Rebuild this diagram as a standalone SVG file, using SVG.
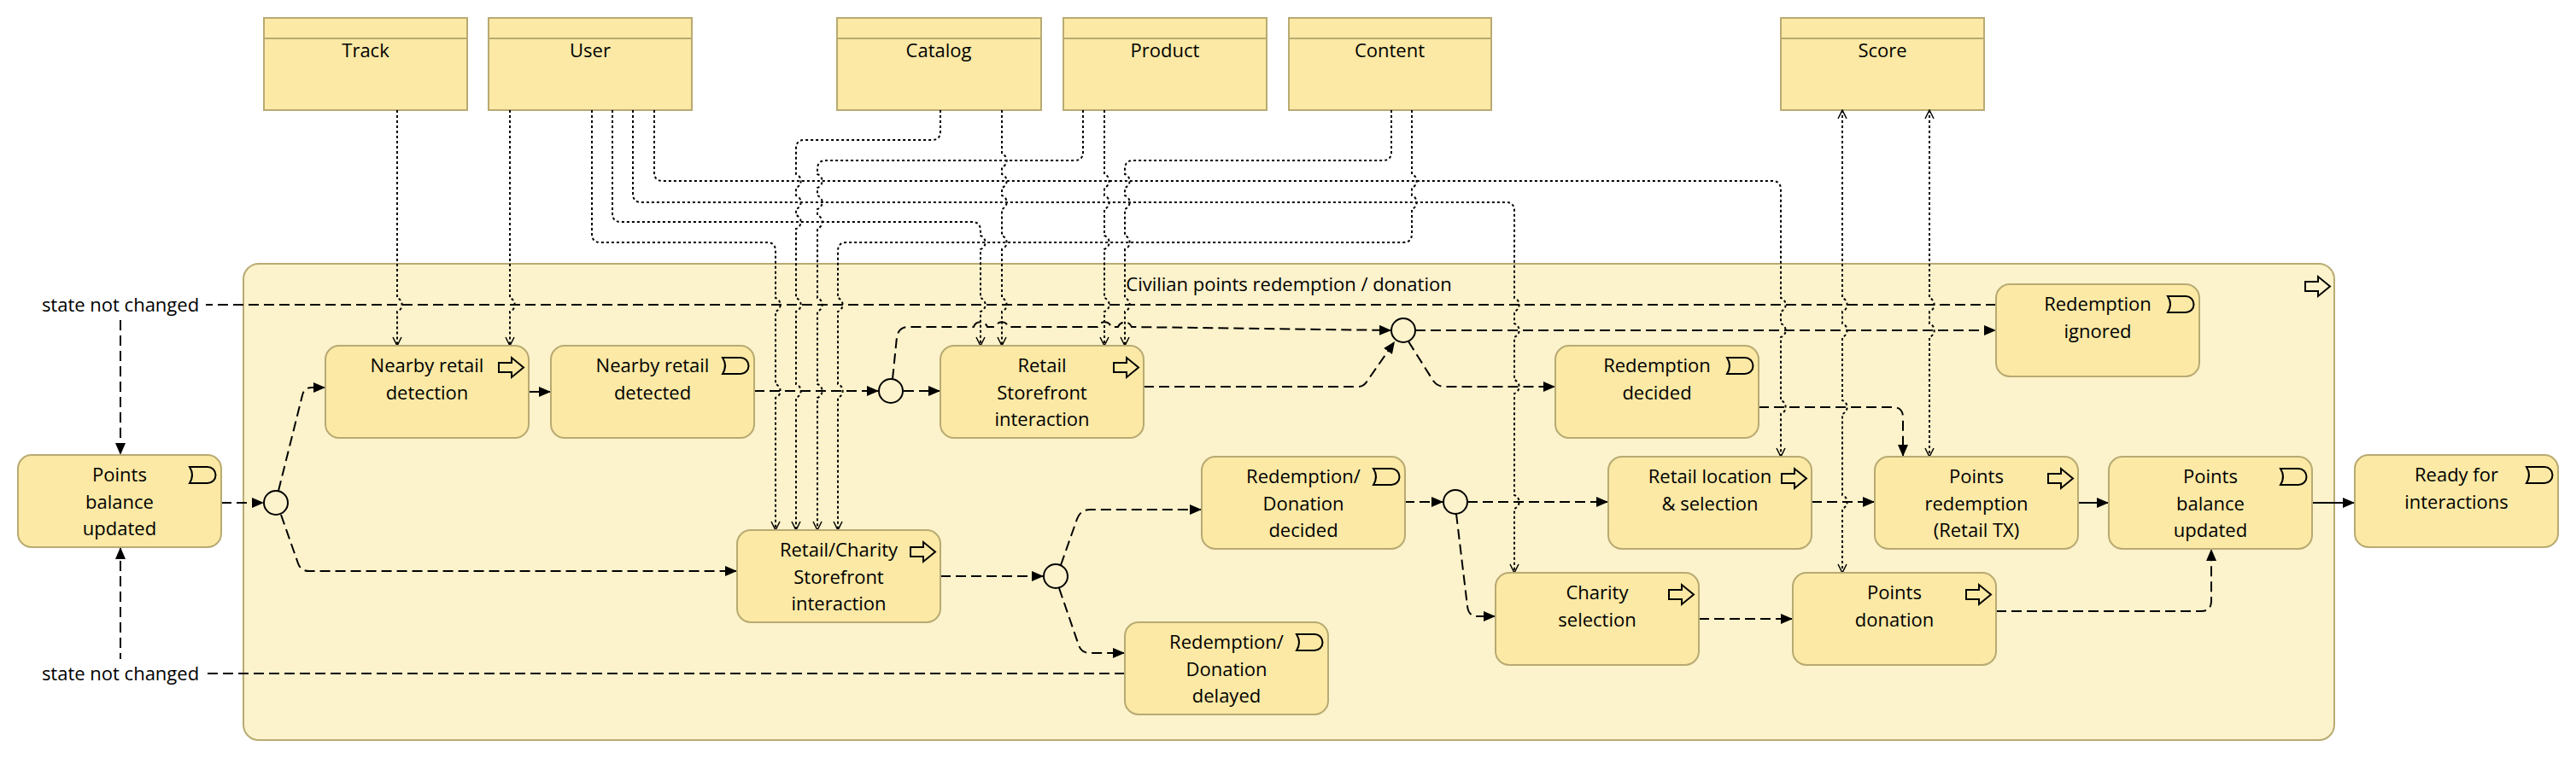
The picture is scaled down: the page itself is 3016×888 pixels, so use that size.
<svg xmlns="http://www.w3.org/2000/svg" xmlns:xlink="http://www.w3.org/1999/xlink" width="3016" height="888" viewBox="0 0 3016 888">
<style>
.t{font-family:'Open Sans','Liberation Sans',sans-serif;font-size:22px;fill:#000;text-anchor:middle}
.box{fill:#FBE9A5;stroke:#B8AA72;stroke-width:2}
.acc{fill:none;stroke:#000;stroke-width:2;stroke-dasharray:3 3}
.flow{fill:none;stroke:#000;stroke-width:2;stroke-dasharray:12 6}
.trig{fill:none;stroke:#000;stroke-width:2}
.ico{fill:none;stroke:#000;stroke-width:2}
.lbl{fill:#fff}
</style>
<defs>
<marker id="af" markerWidth="14" markerHeight="12" refX="14" refY="6" orient="auto" markerUnits="userSpaceOnUse"><path d="M0,0 L14,6 L0,12 z" fill="#000"/></marker>
<marker id="ao" markerWidth="12" markerHeight="12" refX="11" refY="6" orient="auto-start-reverse" markerUnits="userSpaceOnUse"><path d="M1,1 L11,6 L1,11" fill="none" stroke="#000" stroke-width="1.5" stroke-dasharray="none"/></marker>
<path id="ev" d="M0,0 h21 a9.5,9.5 0 0 1 0,19 h-21 q6,-9.5 0,-19 z" fill="none" stroke="#000" stroke-width="2"/>
<path id="pr" d="M0,6 h15 v-6 l14,11.5 l-14,11.5 v-6 h-15 z" fill="none" stroke="#000" stroke-width="2"/>
</defs>
<rect width="3016" height="888" fill="#fff"/>

<g id="container">
<rect x="285" y="309" width="2448" height="558" rx="18" fill="#FCF2CB" stroke="#B8AA72" stroke-width="2"/>
<text class="t" x="1509" y="341">Civilian points redemption / donation</text>
<use xlink:href="#pr" href="#pr" x="2699" y="324"/>
</g>

<g id="data-objects">
<g id="d-track"><rect class="box" x="309" y="21" width="238" height="108"/><line x1="309" y1="45" x2="547" y2="45" stroke="#B8AA72" stroke-width="2"/><text class="t" x="428" y="67">Track</text></g>
<g id="d-user"><rect class="box" x="572" y="21" width="238" height="108"/><line x1="572" y1="45" x2="810" y2="45" stroke="#B8AA72" stroke-width="2"/><text class="t" x="691" y="67">User</text></g>
<g id="d-catalog"><rect class="box" x="980" y="21" width="239" height="108"/><line x1="980" y1="45" x2="1219" y2="45" stroke="#B8AA72" stroke-width="2"/><text class="t" x="1099" y="67">Catalog</text></g>
<g id="d-product"><rect class="box" x="1245" y="21" width="238" height="108"/><line x1="1245" y1="45" x2="1483" y2="45" stroke="#B8AA72" stroke-width="2"/><text class="t" x="1364" y="67">Product</text></g>
<g id="d-content"><rect class="box" x="1509" y="21" width="237" height="108"/><line x1="1509" y1="45" x2="1746" y2="45" stroke="#B8AA72" stroke-width="2"/><text class="t" x="1627" y="67">Content</text></g>
<g id="d-score"><rect class="box" x="2085" y="21" width="238" height="108"/><line x1="2085" y1="45" x2="2323" y2="45" stroke="#B8AA72" stroke-width="2"/><text class="t" x="2204" y="67">Score</text></g>
</g>

<g id="connectors">
<!-- access relations -->
<path class="acc" marker-end="url(#ao)" d="M465,129 V349 A8.5 8.5 0 0 1 465 365 V405"/>
<path class="acc" marker-end="url(#ao)" d="M597,129 V349 A8.5 8.5 0 0 1 597 365 V405"/>
<path class="acc" marker-end="url(#ao)" d="M693,129 V274 Q693,284 703,284 H898 Q908,284 908,294 V349 A8.5 8.5 0 0 1 908 365 V450 A8.5 8.5 0 0 1 908 466 V621"/>
<path class="acc" marker-end="url(#ao)" d="M717,129 V250 Q717,260 727,260 H1138 Q1148,260 1148,270 V276 A8.5 8.5 0 0 1 1148 292 V349 A8.5 8.5 0 0 1 1148 365 V405"/>
<path class="acc" marker-end="url(#ao)" d="M741,129 V227 Q741,237 751,237 H1763 Q1773,237 1773,247 V349 A8.5 8.5 0 0 1 1773 365 V379 A8.5 8.5 0 0 1 1773 395 V445 A8.5 8.5 0 0 1 1773 461 V580 A8.5 8.5 0 0 1 1773 596 V671"/>
<path class="acc" marker-end="url(#ao)" d="M766,129 V202 Q766,212 776,212 H2075 Q2085,212 2085,222 V349 A8.5 8.5 0 0 1 2085 365 V379 A8.5 8.5 0 0 1 2085 395 V469 A8.5 8.5 0 0 1 2085 485 V535"/>
<path class="acc" marker-end="url(#ao)" d="M1101,129 V154 Q1101,164 1091,164 H942 Q932,164 932,174 V204 A8.5 8.5 0 0 1 932 220 V229 A8.5 8.5 0 0 1 932 245 V252 A8.5 8.5 0 0 1 932 268 V349 A8.5 8.5 0 0 1 932 365 V450 A8.5 8.5 0 0 1 932 466 V621"/>
<path class="acc" marker-end="url(#ao)" d="M1173,129 V180 A8.5 8.5 0 0 1 1173 196 V204 A8.5 8.5 0 0 1 1173 220 V229 A8.5 8.5 0 0 1 1173 245 V276 A8.5 8.5 0 0 1 1173 292 V349 A8.5 8.5 0 0 1 1173 365 V405"/>
<path class="acc" marker-end="url(#ao)" d="M1268,129 V178 Q1268,188 1258,188 H967 Q957,188 957,198 V204 A8.5 8.5 0 0 1 957 220 V229 A8.5 8.5 0 0 1 957 245 V252 A8.5 8.5 0 0 1 957 268 V349 A8.5 8.5 0 0 1 957 365 V450 A8.5 8.5 0 0 1 957 466 V621"/>
<path class="acc" marker-end="url(#ao)" d="M1293,129 V204 A8.5 8.5 0 0 1 1293 220 V229 A8.5 8.5 0 0 1 1293 245 V276 A8.5 8.5 0 0 1 1293 292 V349 A8.5 8.5 0 0 1 1293 365 V405"/>
<path class="acc" marker-end="url(#ao)" d="M1629,129 V178 Q1629,188 1619,188 H1327 Q1317,188 1317,198 V204 A8.5 8.5 0 0 1 1317 220 V229 A8.5 8.5 0 0 1 1317 245 V276 A8.5 8.5 0 0 1 1317 292 V349 A8.5 8.5 0 0 1 1317 365 V405"/>
<path class="acc" marker-end="url(#ao)" d="M1653,129 V204 A8.5 8.5 0 0 1 1653 220 V229 A8.5 8.5 0 0 1 1653 245 V274 Q1653,284 1643,284 H991 Q981,284 981,294 V349 A8.5 8.5 0 0 1 981 365 V450 A8.5 8.5 0 0 1 981 466 V621"/>
<path class="acc" marker-start="url(#ao)" marker-end="url(#ao)" d="M2259,129 V349 A8.5 8.5 0 0 1 2259 365 V379 A8.5 8.5 0 0 1 2259 395 V535"/>
<path class="acc" marker-start="url(#ao)" marker-end="url(#ao)" d="M2157,129 V349 A8.5 8.5 0 0 1 2157 365 V379 A8.5 8.5 0 0 1 2157 395 V469 A8.5 8.5 0 0 1 2157 485 V580 A8.5 8.5 0 0 1 2157 596 V671"/>
<!-- flows -->
<path class="flow" marker-end="url(#af)" d="M2337,357 H141 V533"/>
<path class="flow" marker-end="url(#af)" d="M1317,789 H141 V641"/>
<path class="flow" marker-end="url(#af)" d="M259,589 H309"/>
<path class="flow" marker-end="url(#af)" d="M326,575 L354,463 Q356,454 365,454 H381"/>
<path class="flow" marker-end="url(#af)" d="M329,603 L349,660 Q352,669 362,669 H863"/>
<path class="flow" marker-end="url(#af)" d="M883,458 H1029"/>
<path class="flow" marker-end="url(#af)" d="M1058,458 H1101"/>
<path class="flow" marker-end="url(#af)" d="M1045,444 L1050,395 Q1052,383 1064,383 H1140 A8.5 8.5 0 0 1 1156 383 H1165 A8.5 8.5 0 0 1 1181 383 H1285 A8.5 8.5 0 0 1 1301 383 H1309 A8.5 8.5 0 0 1 1325 383 L1629,387"/>
<path class="flow" marker-end="url(#af)" d="M1339,453 H1590 Q1597,453 1601,446 L1633,400"/>
<path class="flow" marker-end="url(#af)" d="M1657,387 H2337"/>
<path class="flow" marker-end="url(#af)" d="M1649,400 L1678,446 Q1683,453 1692,453 H1821"/>
<path class="flow" marker-end="url(#af)" d="M1101,675 H1222"/>
<path class="flow" marker-end="url(#af)" d="M1242,662 L1261,608 Q1265,597 1276,597 H1407"/>
<path class="flow" marker-end="url(#af)" d="M1240,689 L1263,756 Q1266,765 1276,765 H1317"/>
<path class="flow" marker-end="url(#af)" d="M1644,588 H1690"/>
<path class="flow" marker-end="url(#af)" d="M1718,588 H1883"/>
<path class="flow" marker-end="url(#af)" d="M1705,602 L1718,710 Q1719,722 1730,722 H1751"/>
<path class="flow" marker-end="url(#af)" d="M1989,725 H2099"/>
<path class="flow" marker-end="url(#af)" d="M2121,588 H2195"/>
<path class="flow" marker-end="url(#af)" d="M2337,716 H2577 Q2589,716 2589,704 V643"/>
<path class="flow" marker-end="url(#af)" d="M2059,477 H2216 Q2228,477 2228,489 V535"/>
<!-- triggering -->
<path class="trig" marker-end="url(#af)" d="M619,459 H645"/>
<path class="trig" marker-end="url(#af)" d="M2433,589 H2469"/>
<path class="trig" marker-end="url(#af)" d="M2706,589 H2757"/>
<!-- labels -->
<rect class="lbl" x="40" y="341" width="201" height="33"/>
<text class="t" x="141" y="365">state not changed</text>
<rect class="lbl" x="40" y="772" width="201" height="33"/>
<text class="t" x="141" y="797">state not changed</text>
</g>

<g id="gateways" fill="none" stroke="#000" stroke-width="2">
<circle id="g1" cx="323" cy="589" r="14"/>
<circle id="g2" cx="1043" cy="458" r="14"/>
<circle id="g3" cx="1643" cy="387" r="14"/>
<circle id="g4" cx="1236" cy="675" r="14"/>
<circle id="g5" cx="1704" cy="588" r="14"/>
</g>

<g id="n-pbu-left"><rect class="box" x="21" y="533" width="238" height="108" rx="16"/><use href="#ev" xlink:href="#ev" x="222" y="547"/><text class="t" x="140" y="564">Points<tspan x="140" dy="31.5">balance</tspan><tspan x="140" dy="31.5">updated</tspan></text></g>
<g id="n-nearby-detection"><rect class="box" x="381" y="405" width="238" height="108" rx="16"/><use href="#pr" xlink:href="#pr" x="584" y="419"/><text class="t" x="500" y="436">Nearby retail<tspan x="500" dy="31.5">detection</tspan></text></g>
<g id="n-nearby-detected"><rect class="box" x="645" y="405" width="238" height="108" rx="16"/><use href="#ev" xlink:href="#ev" x="846" y="419"/><text class="t" x="764" y="436">Nearby retail<tspan x="764" dy="31.5">detected</tspan></text></g>
<g id="n-retail-storefront"><rect class="box" x="1101" y="405" width="238" height="108" rx="16"/><use href="#pr" xlink:href="#pr" x="1304" y="419"/><text class="t" x="1220" y="436">Retail<tspan x="1220" dy="31.5">Storefront</tspan><tspan x="1220" dy="31.5">interaction</tspan></text></g>
<g id="n-retail-charity-storefront"><rect class="box" x="863" y="621" width="238" height="108" rx="16"/><use href="#pr" xlink:href="#pr" x="1066" y="635"/><text class="t" x="982" y="652">Retail/Charity<tspan x="982" dy="31.5">Storefront</tspan><tspan x="982" dy="31.5">interaction</tspan></text></g>
<g id="n-rd-decided"><rect class="box" x="1407" y="535" width="238" height="108" rx="16"/><use href="#ev" xlink:href="#ev" x="1608" y="549"/><text class="t" x="1526" y="566">Redemption/<tspan x="1526" dy="31.5">Donation</tspan><tspan x="1526" dy="31.5">decided</tspan></text></g>
<g id="n-rd-delayed"><rect class="box" x="1317" y="729" width="238" height="108" rx="16"/><use href="#ev" xlink:href="#ev" x="1518" y="743"/><text class="t" x="1436" y="760">Redemption/<tspan x="1436" dy="31.5">Donation</tspan><tspan x="1436" dy="31.5">delayed</tspan></text></g>
<g id="n-redemption-decided"><rect class="box" x="1821" y="405" width="238" height="108" rx="16"/><use href="#ev" xlink:href="#ev" x="2022" y="419"/><text class="t" x="1940" y="436">Redemption<tspan x="1940" dy="31.5">decided</tspan></text></g>
<g id="n-redemption-ignored"><rect class="box" x="2337" y="333" width="238" height="108" rx="16"/><use href="#ev" xlink:href="#ev" x="2538" y="347"/><text class="t" x="2456" y="364">Redemption<tspan x="2456" dy="31.5">ignored</tspan></text></g>
<g id="n-retail-location"><rect class="box" x="1883" y="535" width="238" height="108" rx="16"/><use href="#pr" xlink:href="#pr" x="2086" y="549"/><text class="t" x="2002" y="566">Retail location<tspan x="2002" dy="31.5">&amp; selection</tspan></text></g>
<g id="n-charity-selection"><rect class="box" x="1751" y="671" width="238" height="108" rx="16"/><use href="#pr" xlink:href="#pr" x="1954" y="685"/><text class="t" x="1870" y="702">Charity<tspan x="1870" dy="31.5">selection</tspan></text></g>
<g id="n-points-redemption"><rect class="box" x="2195" y="535" width="238" height="108" rx="16"/><use href="#pr" xlink:href="#pr" x="2398" y="549"/><text class="t" x="2314" y="566">Points<tspan x="2314" dy="31.5">redemption</tspan><tspan x="2314" dy="31.5">(Retail TX)</tspan></text></g>
<g id="n-points-donation"><rect class="box" x="2099" y="671" width="238" height="108" rx="16"/><use href="#pr" xlink:href="#pr" x="2302" y="685"/><text class="t" x="2218" y="702">Points<tspan x="2218" dy="31.5">donation</tspan></text></g>
<g id="n-pbu-right"><rect class="box" x="2469" y="535" width="238" height="108" rx="16"/><use href="#ev" xlink:href="#ev" x="2670" y="549"/><text class="t" x="2588" y="566">Points<tspan x="2588" dy="31.5">balance</tspan><tspan x="2588" dy="31.5">updated</tspan></text></g>
<g id="n-ready"><rect class="box" x="2757" y="533" width="238" height="108" rx="16"/><use href="#ev" xlink:href="#ev" x="2958" y="547"/><text class="t" x="2876" y="564">Ready for<tspan x="2876" dy="31.5">interactions</tspan></text></g>
</svg>
